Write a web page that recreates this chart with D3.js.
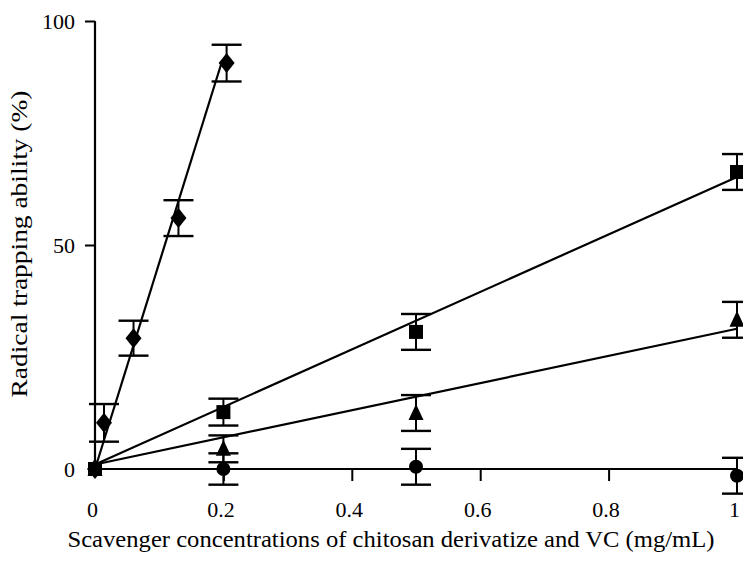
<!DOCTYPE html>
<html lang="en">
<head>
  <meta charset="UTF-8">
  <title>Radical trapping ability</title>
</head>
<body style="margin:0;background:#fff">
<script src="https://d3js.org/d3.v7.min.js"></script>
<script>
  let w = 743, h = 561;
  var serif = "'Liberation Serif'";

  // concentrations (mg/mL)
  var concDiamond = [0, 0.014, 0.06, 0.13, 0.205];
  var concOther = [0, 0.2, 0.5, 1];

  // trapping ability (%) and error bars
  var valDiamond = [0, 10.3, 29.2, 56, 90.6];
  var errDiamond = [0, 4.2, 3.9, 4, 4.1];
  var valSquare = [0, 12.7, 30.6, 66.3];
  var errSquare = [0, 3, 4, 4];
  var valTriangle = [0, 4.5, 12.5, 33.3];
  var errTriangle = [0, 3, 4, 4];
  var valCircle = [0, 0, 0.5, -1.5];
  var errCircle = [0, 3.5, 4, 4];

  // fitted lines: [intercept, slope, xEnd]
  var fitDiamond = [0, 460, 0.198];
  var fitSquare = [1, 64.2, 1];
  var fitTriangle = [1, 30.3, 1];
  var fitCircle = [0, 0, 1];

  var xTicks = [0, 0.2, 0.4, 0.6, 0.8, 1];
  var yTicks = [0, 50, 100];

  var svg = d3.select("body")
          .append("svg")
          .attr("width", w)
          .attr("height", h)
          .style("font-family", serif);

  var xScale = d3.scaleLinear().domain([0, 1]).range([95, 737]);
  var yScale = d3.scaleLinear().domain([0, 100]).range([469, 21]);

  // axes
  var xAxis = d3.axisBottom(xScale)
          .tickValues(xTicks)
          .tickSize(12)
          .tickPadding(20)
          .tickFormat(d => d === 0 || d === 1 ? String(d) : d3.format(".1f")(d));
  var gx = svg.append("g")
          .attr("transform", "translate(0," + yScale(0) + ")")
          .call(xAxis)
          .attr("font-family", null)
          .attr("font-size", null);
  gx.select(".domain").attr("stroke-width", 2.2).attr("d", "M" + xScale(0) + ",0H" + xScale(1));
  gx.selectAll(".tick line").attr("stroke-width", 2);
  gx.selectAll(".tick").filter(d => d === 0).select("line").remove();
  gx.selectAll(".tick text")
          .style("font-family", serif)
          .style("font-size", "22px")
          .attr("dx", -3);

  var yAxis = d3.axisLeft(yScale)
          .tickValues(yTicks)
          .tickSize(10)
          .tickPadding(10);
  var gy = svg.append("g")
          .attr("transform", "translate(" + xScale(0) + ",0)")
          .call(yAxis)
          .attr("font-family", null)
          .attr("font-size", null);
  gy.select(".domain").attr("stroke-width", 2.2).attr("d", "M0," + yScale(100) + "V" + yScale(0));
  gy.selectAll(".tick line").attr("stroke-width", 2);
  gy.selectAll(".tick").filter(d => d === 0).select("line").remove();
  gy.selectAll(".tick text")
          .style("font-family", serif)
          .style("font-size", "22px");

  // axis titles
  svg.append("text")
          .attr("x", 391)
          .attr("y", 547)
          .attr("text-anchor", "middle")
          .style("font-family", serif)
          .style("font-size", "23px")
          .attr("textLength", 647)
          .attr("lengthAdjust", "spacingAndGlyphs")
          .text("Scavenger concentrations of chitosan derivatize and VC (mg/mL)");

  svg.append("text")
          .attr("transform", "translate(27,244) rotate(-90)")
          .attr("text-anchor", "middle")
          .style("font-family", serif)
          .style("font-size", "24px")
          .attr("textLength", 307)
          .attr("lengthAdjust", "spacingAndGlyphs")
          .text("Radical trapping ability (%)");

  // fitted lines
  var fits = [fitDiamond, fitSquare, fitTriangle, fitCircle];
  svg.append("g").selectAll("line")
          .data(fits)
          .enter()
          .append("line")
          .attr("x1", xScale(0))
          .attr("y1", d => yScale(d[0]))
          .attr("x2", d => xScale(d[2]))
          .attr("y2", d => yScale(d[0] + d[1] * d[2]))
          .attr("stroke", "#000")
          .attr("stroke-width", 2.2);

  var shapes = {
    diamond: "M0,-10L8,0L0,10L-8,0Z",
    square: "M-7,-7H7V7H-7Z",
    triangle: "M0,-9L7.5,7H-7.5Z",
    circle: "M7,0A7,7 0 1,1 -7,0A7,7 0 1,1 7,0Z"
  };

  var series = [
    {shape: "diamond", xs: concDiamond, ys: valDiamond, es: errDiamond},
    {shape: "square", xs: concOther, ys: valSquare, es: errSquare},
    {shape: "triangle", xs: concOther, ys: valTriangle, es: errTriangle},
    {shape: "circle", xs: concOther, ys: valCircle, es: errCircle}
  ];

  var capHalf = 15;

  series.forEach(function(s) {
    var pts = s.xs.map((x, i) => ({x: x, y: s.ys[i], e: s.es[i]}));
    var g = svg.append("g");

    var bars = g.selectAll("g.err")
            .data(pts.filter(p => p.e > 0))
            .enter()
            .append("g")
            .attr("class", "err")
            .attr("stroke", "#000");
    bars.append("line")
            .attr("x1", d => xScale(d.x)).attr("x2", d => xScale(d.x))
            .attr("y1", d => yScale(d.y + d.e)).attr("y2", d => yScale(d.y - d.e))
            .attr("stroke-width", 2);
    bars.append("line")
            .attr("x1", d => xScale(d.x) - capHalf).attr("x2", d => xScale(d.x) + capHalf)
            .attr("y1", d => yScale(d.y + d.e)).attr("y2", d => yScale(d.y + d.e))
            .attr("stroke-width", 2.4);
    bars.append("line")
            .attr("x1", d => xScale(d.x) - capHalf).attr("x2", d => xScale(d.x) + capHalf)
            .attr("y1", d => yScale(d.y - d.e)).attr("y2", d => yScale(d.y - d.e))
            .attr("stroke-width", 2.4);

    g.selectAll("path")
            .data(pts)
            .enter()
            .append("path")
            .attr("d", shapes[s.shape])
            .attr("transform", d => "translate(" + xScale(d.x) + "," + yScale(d.y) + ")")
            .attr("fill", "#000");
  });
</script>
</body>
</html>
